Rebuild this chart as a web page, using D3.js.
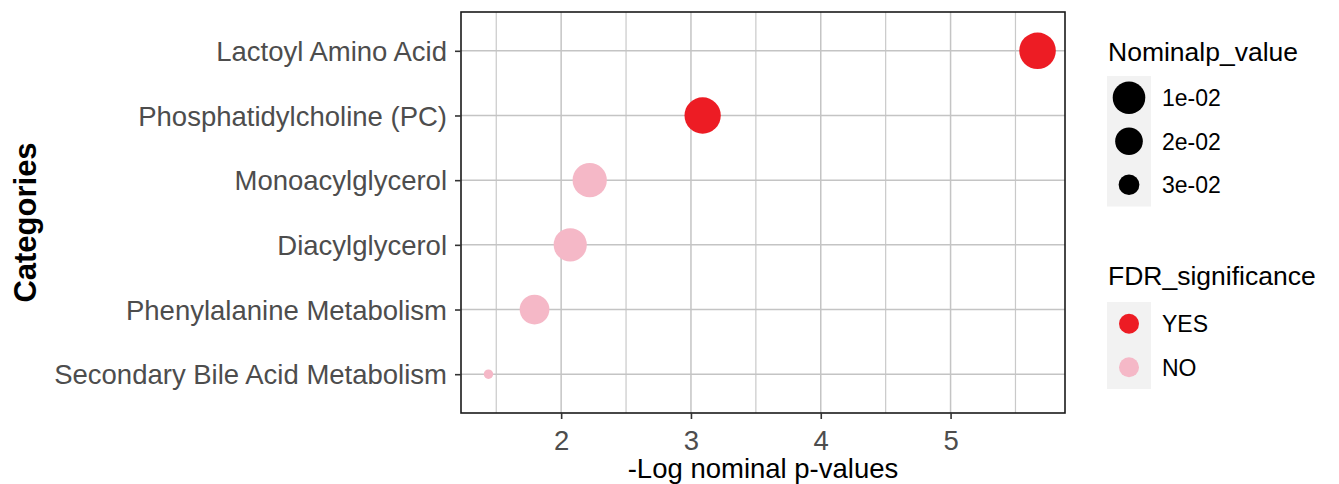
<!DOCTYPE html>
<html>
<head>
<meta charset="utf-8">
<script src="https://cdn.jsdelivr.net/npm/d3@7"></script>
<style>
  html, body { margin: 0; padding: 0; background: #fff; }
  svg { display: block; font-family: "Liberation Sans", Arial, sans-serif; }
</style>
</head>
<body>
<div id="chart"></div>
<script>
// categories, top to bottom
const categories = [
  "Lactoyl Amino Acid",
  "Phosphatidylcholine (PC)",
  "Monoacylglycerol",
  "Diacylglycerol",
  "Phenylalanine Metabolism",
  "Secondary Bile Acid Metabolism"
];
const negLogP = [5.67, 3.09, 2.22, 2.07, 1.795, 1.44];
const fdrSig = ["YES", "YES", "NO", "NO", "NO", "NO"];
const xTicks = [2, 3, 4, 5];
const sizeBreaks = [0.01, 0.02, 0.03];
const sizeLabels = ["1e-02", "2e-02", "3e-02"];
const fdrLevels = ["YES", "NO"];

const data = categories.map((c, i) => ({ cat: c, v: negLogP[i], p: Math.pow(10, -negLogP[i]), fdr: fdrSig[i] }));

const W = 1339, H = 484;
const m = { l: 461, r: 1065, t: 12, b: 413 };
const svg = d3.select("#chart").append("svg").attr("width", W).attr("height", H);
svg.append("rect").attr("width", W).attr("height", H).attr("fill", "#fff");

// ggplot-style 5% expansion
const [x0, x1] = d3.extent(negLogP);
const pad = (x1 - x0) * 0.05;
const x = d3.scaleLinear().domain([x0 - pad, x1 + pad]).range([m.l, m.r]);
const y = d3.scalePoint().domain(categories).range([m.t, m.b]).padding(0.6);

// size: reversed p, area-style (sqrt) mapping like scale_size
const pExt = d3.extent(data, (d) => d.p);
const tScale = d3.scaleLinear().domain([pExt[1], pExt[0]]).range([0, 1]);
const rScale = d3.scaleSqrt().domain([0, 1]).range([4.7, 18.3]);
const r = (p) => rScale(Math.max(0, tScale(p)));
const color = d3.scaleOrdinal().domain(fdrLevels).range(["#ed1c24", "#f5b8c7"]);

// grid
const grid = svg.append("g");
const minor = d3.range(Math.ceil(x.domain()[0] * 2) / 2, x.domain()[1], 1).filter((v) => !xTicks.includes(v));
grid.selectAll("line.minor").data(minor).join("line")
  .attr("x1", (d) => x(d)).attr("x2", (d) => x(d)).attr("y1", m.t).attr("y2", m.b)
  .attr("stroke", "#c9c9c9").attr("stroke-width", 1.2);
grid.selectAll("line.vmaj").data(xTicks).join("line")
  .attr("x1", (d) => x(d)).attr("x2", (d) => x(d)).attr("y1", m.t).attr("y2", m.b)
  .attr("stroke", "#c4c4c4").attr("stroke-width", 1.5);
grid.selectAll("line.hmaj").data(categories).join("line")
  .attr("x1", m.l).attr("x2", m.r).attr("y1", (d) => y(d)).attr("y2", (d) => y(d))
  .attr("stroke", "#c4c4c4").attr("stroke-width", 1.5);

// points
svg.append("g").selectAll("circle").data(data).join("circle")
  .attr("cx", (d) => x(d.v)).attr("cy", (d) => y(d.cat)).attr("r", (d) => r(d.p))
  .attr("fill", (d) => color(d.fdr));

// panel border
svg.append("rect").attr("x", m.l).attr("y", m.t).attr("width", m.r - m.l).attr("height", m.b - m.t)
  .attr("fill", "none").attr("stroke", "#1a1a1a").attr("stroke-width", 1.6);

// axes
const xAxis = svg.append("g").attr("transform", `translate(0,${m.b})`)
  .call(d3.axisBottom(x).tickValues(xTicks).tickSize(6).tickPadding(6).tickFormat(d3.format("d")));
const yAxis = svg.append("g").attr("transform", `translate(${m.l},0)`)
  .call(d3.axisLeft(y).tickSize(6).tickPadding(8));
[xAxis, yAxis].forEach((a) => {
  a.select(".domain").remove();
  a.selectAll(".tick line").attr("stroke", "#333").attr("stroke-width", 1.6);
  a.selectAll(".tick text").attr("fill", "#4d4d4d").attr("font-size", 27.5)
    .attr("font-family", "'Liberation Sans', Arial, sans-serif");
});
xAxis.selectAll(".tick text").attr("dy", "0.9em");
yAxis.selectAll(".tick text").attr("dy", "0.35em");

svg.append("text").attr("x", (m.l + m.r) / 2).attr("y", 478).attr("text-anchor", "middle")
  .attr("font-size", 27.5).attr("fill", "#000").text("-Log nominal p-values");
svg.append("text").attr("transform", `translate(36,${(m.t + m.b) / 2 + 10}) rotate(-90)`)
  .attr("text-anchor", "middle").attr("font-size", 31).attr("font-weight", 700).attr("fill", "#000")
  .text("Categories");

// legends
const lx = 1107, keyW = 44, keyH = 43.5;
function legend(title, titleY, keyTop, items) {
  const g = svg.append("g");
  g.append("text").attr("x", lx + 1).attr("y", titleY).attr("font-size", 26.5).attr("fill", "#000").text(title);
  g.append("rect").attr("x", lx).attr("y", keyTop).attr("width", keyW).attr("height", keyH * items.length)
    .attr("fill", "#f2f2f2");
  items.forEach((it, i) => {
    const cy = keyTop + keyH * (i + 0.5);
    g.append("circle").attr("cx", lx + keyW / 2).attr("cy", cy).attr("r", it.r).attr("fill", it.fill);
    g.append("text").attr("x", lx + 55).attr("y", cy).attr("dy", "0.36em").attr("font-size", 23)
      .attr("fill", "#000").text(it.label);
  });
}
legend("Nominalp_value", 61, 76, sizeBreaks.map((p, i) => ({ r: r(p), fill: "#000", label: sizeLabels[i] })));
legend("FDR_significance", 285, 302, fdrLevels.map((l) => ({ r: 10, fill: color(l), label: l })));
</script>
</body>
</html>
